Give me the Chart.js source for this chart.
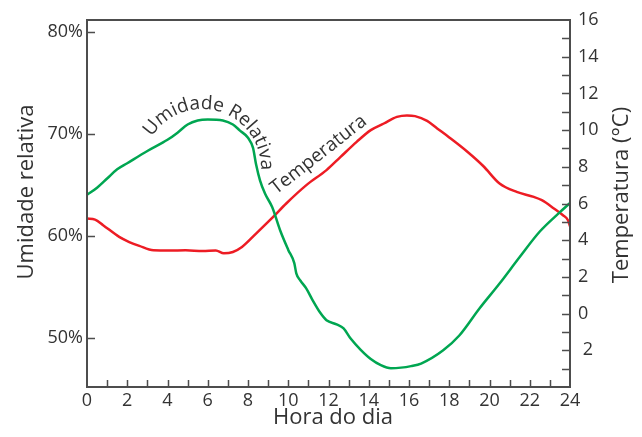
<!DOCTYPE html>
<html>
<head>
<meta charset="utf-8">
<script src="https://cdn.jsdelivr.net/npm/chart.js@4/dist/chart.umd.min.js"></script>
<style>
  body { margin: 0; background: #fff; }
  canvas { display: block; }
</style>
</head>
<body>
<canvas id="grafico" width="642" height="437"></canvas>
<script>
// Umidade relativa (%) ao longo do dia
const horasUmidade = [0, 0.5, 1, 1.5, 2, 3, 4, 4.5, 5, 5.5, 6, 6.75, 7.25, 7.6, 8, 8.25, 8.4, 8.6, 8.85, 9.2, 9.6, 10, 10.3, 10.4, 10.6, 10.9, 11.2, 11.6, 11.9, 12.4, 12.75, 13.1, 13.6, 14.1, 14.6, 15.1, 15.6, 16.1, 16.6, 17.7, 18.5, 19.5, 20.5, 21.5, 22.5, 23.5, 24];
const umidade = [64.0, 64.7, 65.6, 66.5, 67.1, 68.3, 69.4, 70.1, 70.9, 71.3, 71.4, 71.3, 70.9, 70.3, 69.6, 68.6, 67.0, 65.4, 64.1, 62.8, 60.5, 58.6, 57.3, 56.3, 55.6, 54.8, 53.7, 52.4, 51.7, 51.3, 50.9, 49.9, 48.8, 47.9, 47.3, 47.0, 47.05, 47.2, 47.45, 48.75, 50.2, 52.85, 55.3, 57.9, 60.4, 62.3, 63.2];

// Temperatura (°C) ao longo do dia
const horasTemp = [0, 0.4, 0.8, 1.6, 2.1, 2.6, 3.3, 4.1, 4.9, 5.75, 6.4, 6.8, 7.25, 7.7, 8.4, 9.25, 9.9, 10.9, 11.9, 12.6, 13.4, 14.1, 14.75, 15.4, 15.9, 16.3, 16.9, 17.4, 18, 18.9, 19.7, 20.5, 21.35, 22.2, 22.6, 23.2, 23.65, 23.9, 24];
const temperatura = [5.18, 5.12, 4.82, 4.18, 3.9, 3.69, 3.45, 3.44, 3.45, 3.41, 3.44, 3.29, 3.36, 3.63, 4.36, 5.27, 6.0, 7.0, 7.82, 8.54, 9.36, 10.0, 10.36, 10.72, 10.8, 10.76, 10.5, 10.09, 9.6, 8.82, 8.03, 7.09, 6.63, 6.36, 6.18, 5.73, 5.36, 5.09, 4.76];

const ticksUmidade = [50, 60, 70, 80];
const ticksTemp = [-2, 0, 2, 4, 6, 8, 10, 12, 14, 16];

const VERDE = '#00a651';
const VERMELHO = '#ed1c24';
const EIXO = '#4d4d4d';
const TEXTO = '#333333';
const FONTE = "'Open Sans', sans-serif";

// texto ao longo de um arco (rótulo "Umidade Relativa")
function textoNoArco(ctx, texto, cx, cy, r, anguloMeio) {
    const total = ctx.measureText(texto).width;
    let a = anguloMeio - total / r / 2;
    for (const ch of texto) {
        const w = ctx.measureText(ch).width;
        const meio = a + w / 2 / r;
        ctx.save();
        ctx.translate(cx + r * Math.cos(meio), cy + r * Math.sin(meio));
        ctx.rotate(meio + Math.PI / 2);
        ctx.fillText(ch, 0, 0);
        ctx.restore();
        a += w / r;
    }
}

const molduraPlugin = {
    id: 'moldura',
    afterDraw(chart) {
        const { ctx, chartArea: ca, scales } = chart;
        ctx.save();
        ctx.strokeStyle = EIXO;
        ctx.lineWidth = 2;
        ctx.strokeRect(ca.left, ca.top, ca.right - ca.left, ca.bottom - ca.top);

        ctx.lineWidth = 1.5;
        ctx.beginPath();
        for (let h = 1; h < 24; h++) {
            const x = Math.round(scales.x.getPixelForValue(h)) + 0.5;
            ctx.moveTo(x, ca.bottom);
            ctx.lineTo(x, ca.bottom - 7);
        }
        ticksUmidade.forEach(v => {
            const y = Math.round(scales.y.getPixelForValue(v)) + 0.5;
            ctx.moveTo(ca.left, y);
            ctx.lineTo(ca.left + 8, y);
        });
        for (let t = -3; t < 16; t++) {
            const y = Math.round(scales.y1.getPixelForValue(t)) + 0.5;
            ctx.moveTo(ca.right, y);
            ctx.lineTo(ca.right - 8, y);
        }
        ctx.stroke();

        // títulos dos eixos
        ctx.fillStyle = TEXTO;
        ctx.font = '22px ' + FONTE;
        ctx.textAlign = 'center';
        ctx.textBaseline = 'alphabetic';
        ctx.fillText('Hora do dia', 333, 424);

        ctx.save();
        ctx.translate(33, 192);
        ctx.rotate(-Math.PI / 2);
        ctx.fillText('Umidade relativa', 0, 0);
        ctx.restore();

        ctx.save();
        ctx.translate(628, 195);
        ctx.rotate(-Math.PI / 2);
        ctx.fillText('Temperatura (°C)', 0, 0);
        ctx.restore();

        // rótulos das curvas
        ctx.font = '19px ' + FONTE;
        textoNoArco(ctx, 'Umidade Relativa', 202, 168, 59, -73 * Math.PI / 180);

        ctx.save();
        ctx.translate(322, 159);
        ctx.rotate(-38 * Math.PI / 180);
        ctx.fillText('Temperatura', 0, 0);
        ctx.restore();

        ctx.restore();
    }
};

new Chart(document.getElementById('grafico'), {
    type: 'line',
    data: {
        datasets: [
            {
                label: 'Umidade Relativa',
                data: horasUmidade.map((h, i) => ({ x: h, y: umidade[i] })),
                yAxisID: 'y',
                borderColor: VERDE,
                borderWidth: 2.5,
                pointRadius: 0,
                cubicInterpolationMode: 'monotone',
                fill: false
            },
            {
                label: 'Temperatura',
                data: horasTemp.map((h, i) => ({ x: h, y: temperatura[i] })),
                yAxisID: 'y1',
                borderColor: VERMELHO,
                borderWidth: 2.5,
                pointRadius: 0,
                cubicInterpolationMode: 'monotone',
                fill: false
            }
        ]
    },
    options: {
        responsive: false,
        animation: false,
        devicePixelRatio: 1,
        layout: { padding: { top: 20, left: 0, right: 0, bottom: 0 } },
        plugins: {
            legend: { display: false },
            tooltip: { enabled: false }
        },
        scales: {
            x: {
                type: 'linear',
                min: 0,
                max: 24,
                grid: { display: false, drawTicks: false },
                border: { display: false },
                ticks: {
                    stepSize: 2,
                    padding: 3,
                    color: TEXTO,
                    font: { family: FONTE, size: 18 }
                },
                afterFit: s => { s.height = 50; }
            },
            y: {
                position: 'left',
                min: 45.15,
                max: 81.15,
                grid: { display: false, drawTicks: false },
                border: { display: false },
                afterBuildTicks: s => { s.ticks = ticksUmidade.map(v => ({ value: v })); },
                ticks: {
                    padding: 4,
                    autoSkip: false,
                    color: TEXTO,
                    font: { family: FONTE, size: 18 },
                    callback: v => v + '%'
                },
                afterFit: s => { s.width = 87; }
            },
            y1: {
                position: 'right',
                min: -4,
                max: 16,
                grid: { display: false, drawTicks: false },
                border: { display: false },
                afterBuildTicks: s => { s.ticks = ticksTemp.map(v => ({ value: v })); },
                ticks: {
                    padding: 8,
                    autoSkip: false,
                    color: TEXTO,
                    font: { family: FONTE, size: 18 },
                    callback: v => v < 0 ? ' ' + Math.abs(v) : String(v)
                },
                afterFit: s => { s.width = 72; }
            }
        }
    },
    plugins: [molduraPlugin]
});
</script>
</body>
</html>
